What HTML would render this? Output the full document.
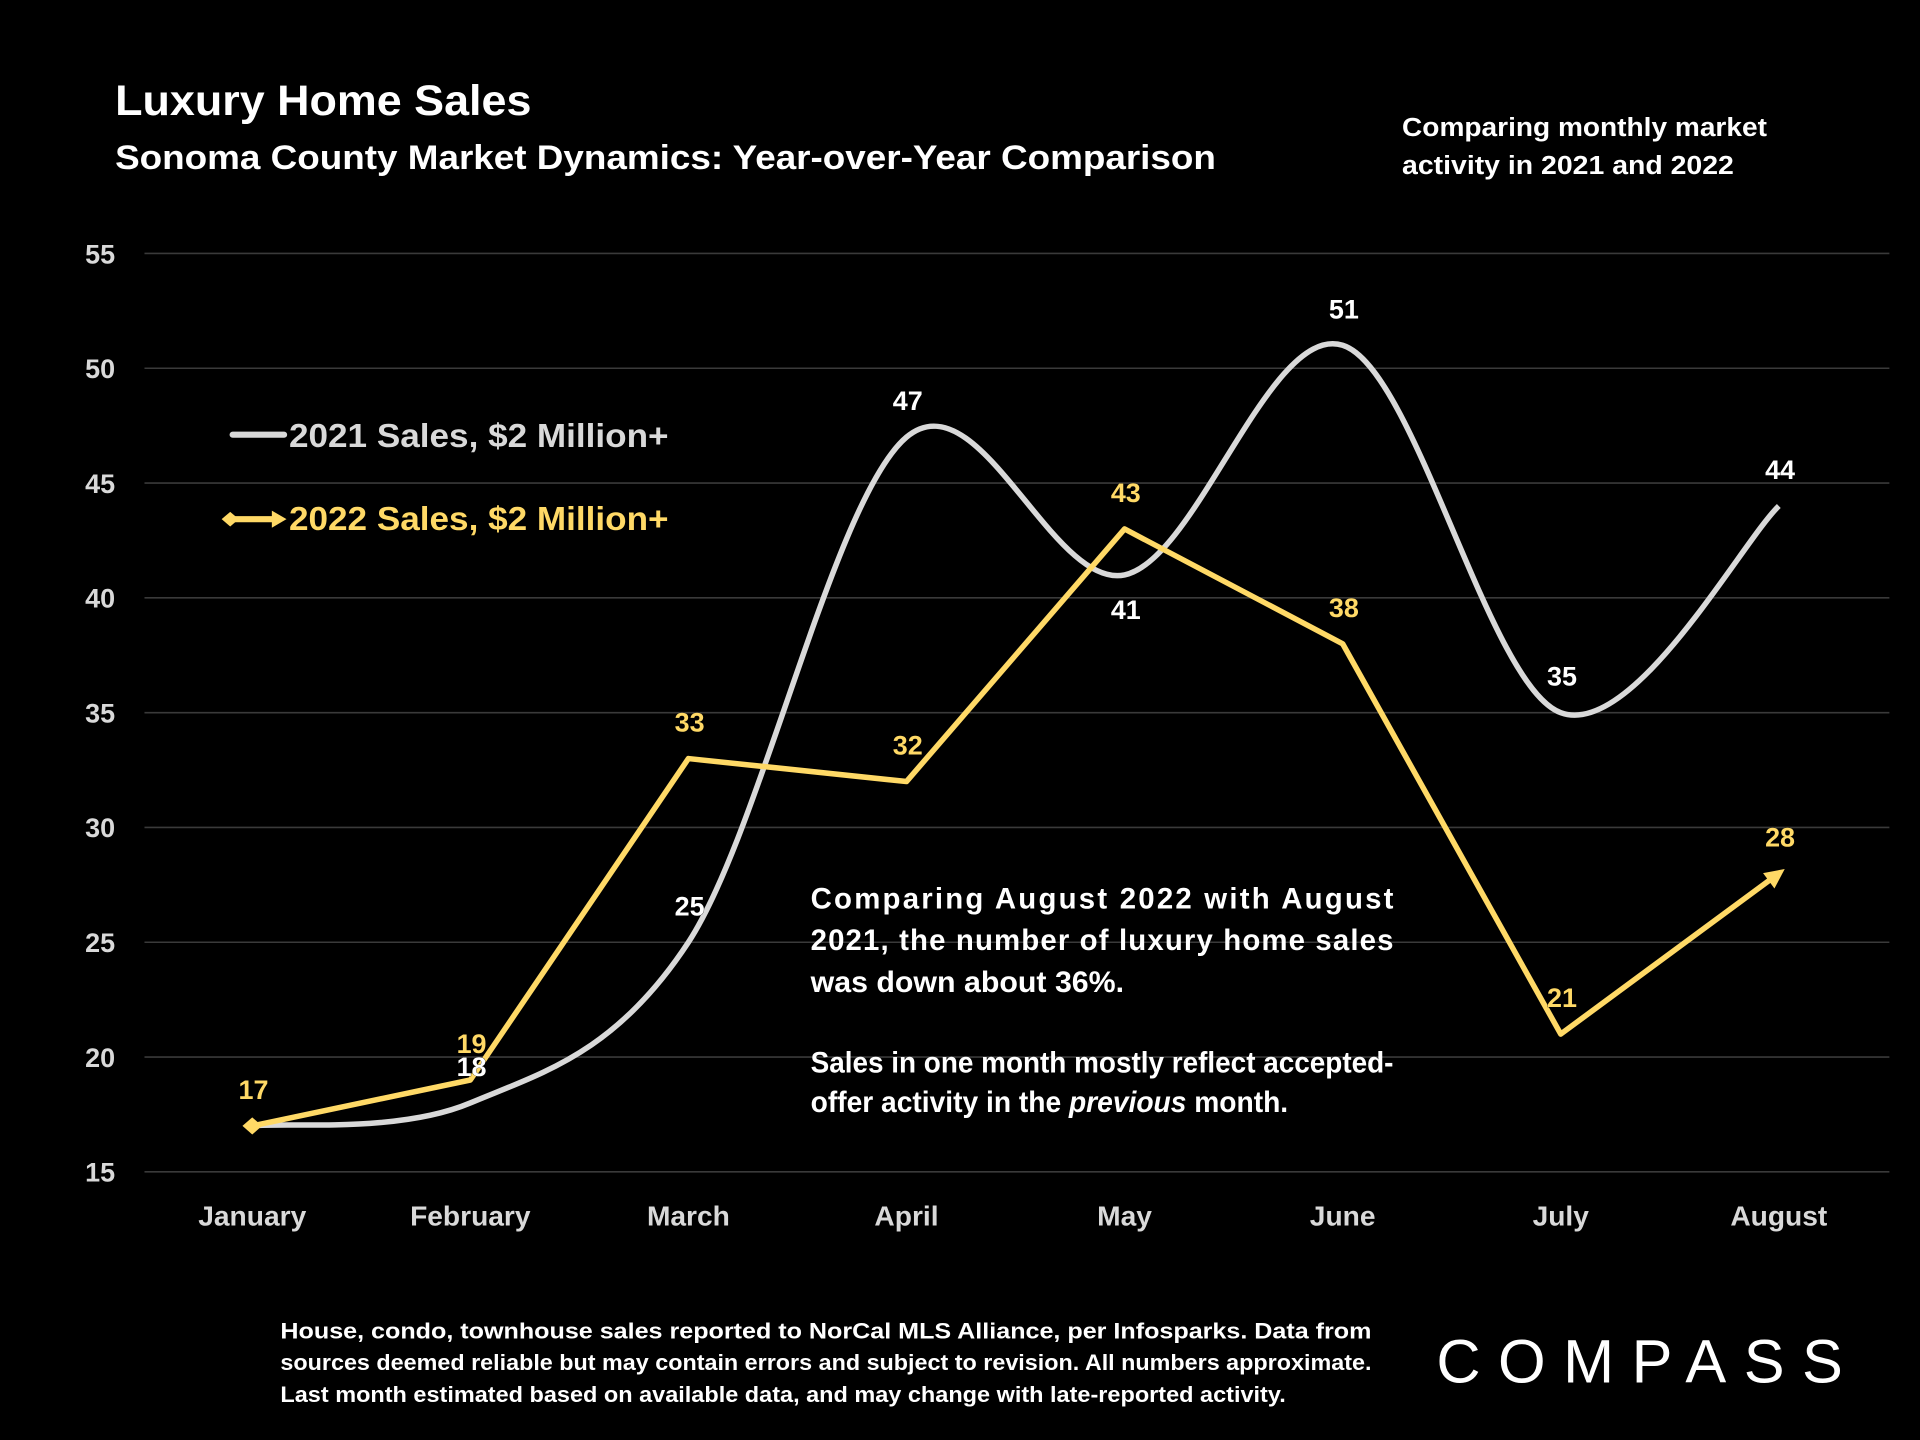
<!DOCTYPE html>
<html><head><meta charset="utf-8"><style>
html,body{margin:0;padding:0;background:#000;}
svg{display:block;}
text{font-family:"Liberation Sans",sans-serif;font-weight:bold;}
</style></head><body>
<svg id="chart" width="1920" height="1440" viewBox="0 0 1568 1176" xmlns="http://www.w3.org/2000/svg">
<rect width="1568" height="1176" fill="#000"/>
<text x="94" y="94" font-size="35" fill="#fff" textLength="340" lengthAdjust="spacingAndGlyphs">Luxury Home Sales</text>
<text x="94" y="138" font-size="28" fill="#fff" textLength="899" lengthAdjust="spacingAndGlyphs">Sonoma County Market Dynamics: Year-over-Year Comparison</text>
<text x="1145" y="111" font-size="21" fill="#fff"><tspan x="1145" textLength="298" lengthAdjust="spacingAndGlyphs">Comparing monthly market</tspan><tspan x="1145" dy="31" textLength="271" lengthAdjust="spacingAndGlyphs">activity in 2021 and 2022</tspan></text>
<g id="grid"></g>
<g id="yticks"></g>
<g id="xticks"></g>
<g id="series"></g>
<g>
<g>
<line x1="190" y1="355" x2="232" y2="355" stroke="#d9d9d9" stroke-width="5" stroke-linecap="round"/>
<text x="236" y="365" font-size="27" fill="#d9d9d9" textLength="310" lengthAdjust="spacingAndGlyphs">2021 Sales, $2 Million+</text>
</g>
<g>
<line x1="188" y1="424" x2="226" y2="424" stroke="#ffd966" stroke-width="5"/>
<path d="M181 424 L188 418 L195 424 L188 430 Z" fill="#ffd966"/>
<path d="M222 417 L234 424 L222 431 Z" fill="#ffd966"/>
<text x="236" y="433" font-size="27" fill="#ffd966" textLength="310" lengthAdjust="spacingAndGlyphs">2022 Sales, $2 Million+</text>
</g>
</g>
<g>
<text font-size="24" fill="#fff">
<tspan x="662" y="742" textLength="476" lengthAdjust="spacing">Comparing August 2022 with August</tspan>
<tspan x="662" y="776" textLength="476" lengthAdjust="spacing">2021, the number of luxury home sales</tspan>
<tspan x="662" y="810" textLength="256" lengthAdjust="spacingAndGlyphs">was down about 36%.</tspan>
<tspan x="662" y="876" textLength="476" lengthAdjust="spacingAndGlyphs">Sales in one month mostly reflect accepted-</tspan>
<tspan x="662" y="908" textLength="390" lengthAdjust="spacingAndGlyphs">offer activity in the <tspan font-style="italic">previous</tspan> month.</tspan>
</text>
</g>
<g>
<text font-size="18" fill="#fff">
<tspan x="229" y="1093" textLength="891" lengthAdjust="spacingAndGlyphs">House, condo, townhouse sales reported to NorCal MLS Alliance, per Infosparks. Data from</tspan>
<tspan x="229" y="1119" textLength="891" lengthAdjust="spacingAndGlyphs">sources deemed reliable but may contain errors and subject to revision. All numbers approximate.</tspan>
<tspan x="229" y="1145" textLength="821" lengthAdjust="spacingAndGlyphs">Last month estimated based on available data, and may change with late-reported activity.</tspan>
</text>
</g>
<text x="1173" y="1129" font-size="50" fill="#fff" textLength="332" lengthAdjust="spacing" style="font-weight:normal">COMPASS</text>
</svg>
<script>
const categories=["January","February","March","April","May","June","July","August"];
const sales2021=[17,18,25,47,41,51,35,44];
const sales2022=[17,19,33,32,43,38,21,28];
const yTicks=[15,20,25,30,35,40,45,50,55];
const labelPos2021=["none","inside","inside","above","below","above","above","above"];
const labelPos2022=["above","above","above","above","above","above","above","above"];
const NS="http://www.w3.org/2000/svg";
const x0=206,xStep=178.1,yMin=15,yMax=55,yTop=207,yBot=957;
const X=i=>x0+i*xStep;
const Y=v=>yBot-(v-yMin)/(yMax-yMin)*(yBot-yTop);
function mk(tag,attrs,parent){const e=document.createElementNS(NS,tag);for(const k in attrs)e.setAttribute(k,attrs[k]);parent.appendChild(e);return e;}
const grid=document.getElementById('grid'),yt=document.getElementById('yticks'),xt=document.getElementById('xticks'),ser=document.getElementById('series');
yTicks.forEach(v=>{
 const l=mk('line',{x1:118,x2:1543,y1:Y(v),y2:Y(v),stroke:'#3a3a3a','stroke-width':1.3},grid);
 
 
 const t=mk('text',{x:94,y:Y(v)+8,'text-anchor':'end','font-size':22,fill:'#d9d9d9'},yt);
 
 
 t.textContent=v;
});
categories.forEach((c,i)=>{
 const t=mk('text',{x:X(i),y:1001,'text-anchor':'middle','font-size':23,fill:'#d9d9d9'},xt);
 
 
 t.textContent=c;
});
const p=sales2021.map((v,i)=>[X(i),Y(v)]);
let d=`M${p[0][0]},${p[0][1]}`;
for(let i=0;i<p.length-1;i++){
 const a=p[Math.max(i-1,0)],b=p[i],c=p[i+1],e=p[Math.min(i+2,p.length-1)];
 const c1=[b[0]+(c[0]-a[0])/6,b[1]+(c[1]-a[1])/6],c2=[c[0]-(e[0]-b[0])/6,c[1]-(e[1]-b[1])/6];
 d+=` C${c1[0]},${c1[1]} ${c2[0]},${c2[1]} ${c[0]},${c[1]}`;
}
const l21=mk('path',{d:d,fill:'none',stroke:'#d9d9d9','stroke-width':4.5},ser);


const q=sales2022.map((v,i)=>[X(i),Y(v)]);
const l22=mk('polyline',{points:q.map(a=>a.join(',')).join(' '),fill:'none',stroke:'#ffd966','stroke-width':4.5,'stroke-linejoin':'round'},ser);


const dm=mk('path',{d:`M${q[0][0]-8},${q[0][1]} L${q[0][0]},${q[0][1]-7} L${q[0][0]+8},${q[0][1]} L${q[0][0]},${q[0][1]+7}Z`,fill:'#ffd966'},ser);


const n=q.length-1,ang=Math.atan2(q[n][1]-q[n-1][1],q[n][0]-q[n-1][0]);
const tip=[q[n][0]+6*Math.cos(ang),q[n][1]+6*Math.sin(ang)];
const pt=(r,da)=>[tip[0]-r*Math.cos(ang+da),tip[1]-r*Math.sin(ang+da)];
const a1=pt(18,0.45),a2=pt(18,-0.45);
const ar=mk('path',{d:`M${tip[0]},${tip[1]} L${a1[0]},${a1[1]} L${a2[0]},${a2[1]}Z`,fill:'#ffd966'},ser);


function labels(vals,pos,color,name){
 vals.forEach((v,i)=>{
  if(pos[i]==='none')return;
  let x=X(i)+1,y=Y(v);
  if(pos[i]==='above')y-=22;
  else if(pos[i]==='below')y+=36;
  else if(pos[i]==='inside')y-=22;
  const t=mk('text',{x:x,y:y,'text-anchor':'middle','font-size':22,fill:color,stroke:'#000','stroke-width':0.5,'paint-order':'stroke'},ser);
  
  
  t.textContent=v;
 });
}
labels(sales2021,labelPos2021,'#ffffff','2021');
labels(sales2022,labelPos2022,'#ffd966','2022');
</script>
</body></html>
